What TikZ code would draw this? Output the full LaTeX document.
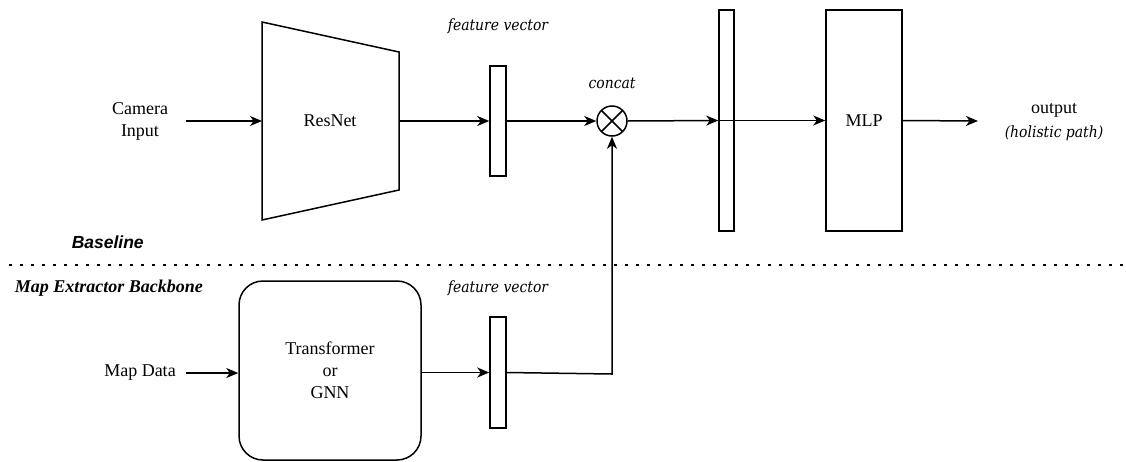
\documentclass[tikz,border=0pt]{standalone}
\usepackage{fontspec}
\setmainfont{Liberation Serif}
\newfontfamily\itfont{DejaVu Serif Condensed}
\newfontfamily\sansbf{Liberation Sans}
\usetikzlibrary{arrows.meta,shapes.geometric,calc}
\begin{document}
\begin{tikzpicture}[x=1pt,y=-1pt,
  line width=1.5pt,
  arr/.style={-{Stealth[length=12pt,width=10pt,inset=3.5pt]}},
  txt/.style={font=\fontsize{18}{22}\selectfont,align=center,inner sep=0pt},
  itl/.style={font=\itfont\fontsize{15.5}{22}\selectfont\itshape,align=center,inner sep=0pt},
  vecbox/.style={draw,minimum width=16pt,inner sep=0pt}
]
\useasboundingbox (0,0) rectangle (1126,461);
% top row
\node[txt] (cam) at (140,121) {Camera\\Input};
\coordinate (camR) at (186,121);
\coordinate (rn1) at (262,22);
\coordinate (rn2) at (399,52);
\coordinate (rn3) at (399,190);
\coordinate (rn4) at (262,220);
\draw (rn1) -- (rn2) -- (rn3) -- (rn4) -- cycle;
\coordinate (rnL) at (262,121);
\coordinate (rnR) at (399,121);
\node[txt] (resnet) at (330,121) {ResNet};
\node[vecbox,minimum height=110pt] (fv1) at (498,121) {};
\node[itl] (fv1l) at (498,26) {feature vector};
\node[draw,circle,minimum size=30pt,inner sep=0pt] (cc) at (612,121) {};
\draw ($(cc.center)+(-10.6,-10.6)$) -- ($(cc.center)+(10.6,10.6)$)
  ($(cc.center)+(-10.6,10.6)$) -- ($(cc.center)+(10.6,-10.6)$);
\node[itl] (ccl) at (612,83) {concat};
\node[vecbox,minimum height=221pt,minimum width=15pt] (tall) at (726.5,120.5) {};
\node[draw,minimum width=76pt,minimum height=221pt,txt] (mlp) at (864,120.5) {MLP};
\coordinate (outL) at (978,121);
\node[txt] (out) at (1054,110) {output};
\node[itl] (outp) at (1054,133) {(holistic path)};

\draw[arr] (camR) -- (rnL);
\draw[arr] (rnR) -- (fv1.west);
\draw[arr] (fv1.east) -- (cc.west);
\draw[arr] (cc.east) -- (tall.west);
\draw[arr] (tall.west) -- (mlp.west);
\draw[arr] (mlp.east) -- (outL);

% separator
\node[font=\sansbf\fontsize{17.5}{20}\selectfont\bfseries\itshape,anchor=west,inner sep=0pt] (base) at (71,242) {Baseline};
\coordinate (d1) at (9,265);
\coordinate (d2) at (1126,265);
\draw[line width=2.8pt,dash pattern=on 2.8pt off 8.2pt] (d1) -- (d2);
\node[font=\fontsize{18}{20}\selectfont\bfseries\itshape,anchor=west,inner sep=0pt] (mapl) at (14,288) {Map Extractor Backbone};

% bottom row
\node[txt] (map) at (140,373) {Map Data};
\coordinate (mapR) at (186,373);
\node[draw,rounded corners=24pt,minimum width=182pt,minimum height=179pt,txt] (tr) at (330,370.5) {Transformer\\or\\GNN};
\node[vecbox,minimum height=111pt] (fv2) at (498,372.5) {};
\node[itl] (fv2l) at (498,288) {feature vector};
\coordinate (bend) at (612,374);

\draw[arr] (mapR) -- (mapR -| tr.west);
\draw[arr] (tr.east |- fv2) -- (fv2.west);
\draw[arr] (fv2.east) -- (bend) -- (cc.south);
\end{tikzpicture}
\end{document}
